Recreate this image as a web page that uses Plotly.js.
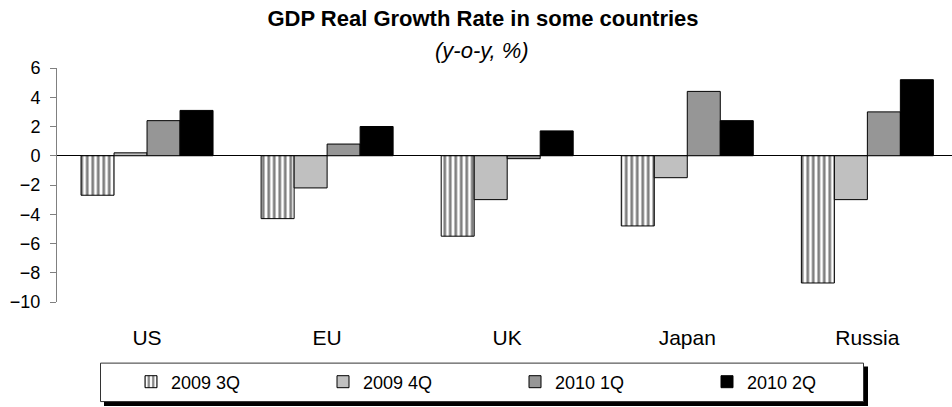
<!DOCTYPE html>
<html>
<head>
<meta charset="utf-8">
<script src="https://cdn.plot.ly/plotly-3.0.1.min.js"></script>
<style>html,body{margin:0;padding:0;background:#fff;}#chart{width:952px;height:407px;}</style>
</head>
<body>
<div id="chart"></div>
<script>
const countries = ["US", "EU", "UK", "Japan", "Russia"];
const seriesNames = ["2009 3Q", "2009 4Q", "2010 1Q", "2010 2Q"];
const q3_2009 = [-2.7, -4.3, -5.5, -4.8, -8.7];
const q4_2009 = [0.2, -2.2, -3.0, -1.5, -3.0];
const q1_2010 = [2.4, 0.8, -0.2, 4.4, 3.0];
const q2_2010 = [3.1, 2.0, 1.7, 2.4, 5.2];
const yTicks = [-10, -8, -6, -4, -2, 0, 2, 4, 6];
const boundaryTicks = [0.5, 1.5, 2.5, 3.5];

const FONT = "Liberation Sans, Arial, sans-serif";
const line = {color: "#000", width: 1};

const traces = [
  {type: "bar", name: seriesNames[0], x: countries, y: q3_2009,
   marker: {color: "#fff", line: line,
            pattern: {shape: "|", fgcolor: "#000", bgcolor: "#fff", size: 5.5, solidity: 0.5, fillmode: "overlay"}}},
  {type: "bar", name: seriesNames[1], x: countries, y: q4_2009, marker: {color: "#C0C0C0", line: line}},
  {type: "bar", name: seriesNames[2], x: countries, y: q1_2010, marker: {color: "#969696", line: line}},
  {type: "bar", name: seriesNames[3], x: countries, y: q2_2010, marker: {color: "#000000", line: line}}
];

const L = 57, R = 952, T = 68, B = 302.3;
const px = v => (v - L) / (R - L);
const py = v => (B - v) / (B - T);

const layout = {
  width: 952, height: 407,
  margin: {l: L, r: 952 - R, t: T, b: 407 - B},
  paper_bgcolor: "#fff", plot_bgcolor: "#fff",
  font: {family: FONT, color: "#000", size: 17},
  barmode: "group", bargap: 0.267, bargroupgap: 0,
  title: {text: "<b>GDP Real Growth Rate in some countries</b>", font: {family: FONT, size: 22, color: "#000"},
          xref: "container", x: 483 / 952, xanchor: "center", yref: "container", y: 1 - 18 / 407, yanchor: "middle"},
  annotations: [{text: "<i>(y-o-y, %)</i>", xref: "paper", yref: "paper", x: px(482), y: py(50),
                 xanchor: "center", yanchor: "middle", showarrow: false, font: {family: FONT, size: 22, color: "#000"}}],
  xaxis: {type: "category", categoryorder: "array", categoryarray: countries, range: [-0.5, 4.47],
          showline: false, ticks: "", showgrid: false, zeroline: false, ticklabelstandoff: 21,
          tickfont: {family: FONT, size: 21, color: "#000"}, fixedrange: true},
  xaxis2: {overlaying: "x", anchor: "free", position: py(156), range: [-0.5, 4.47],
           tickmode: "array", tickvals: boundaryTicks, ticks: "outside", ticklen: 7, tickcolor: "#000", tickwidth: 1,
           showticklabels: false, showline: false, showgrid: false, zeroline: false},
  yaxis: {range: [-10, 6], tickmode: "array", tickvals: yTicks, ticks: "outside", ticklen: 6, tickcolor: "#808080",
          showline: true, linecolor: "#808080", linewidth: 1, showgrid: false,
          zeroline: true, zerolinecolor: "#000", zerolinewidth: 1, ticklabelstandoff: 6,
          tickfont: {family: FONT, size: 18, color: "#000"}},
  showlegend: true,
  legend: {orientation: "h", xref: "container", yref: "container", x: 131 / 952, y: 1 - 382 / 407,
           xanchor: "left", yanchor: "middle", bgcolor: "rgba(0,0,0,0)", borderwidth: 0,
           entrywidth: 147, entrywidthmode: "pixels", itemwidth: 30, traceorder: "normal",
           font: {family: FONT, size: 18, color: "#000"}},
  shapes: [
    {type: "rect", xref: "paper", yref: "paper", x0: px(104), x1: px(868), y0: py(406.5), y1: py(367),
     fillcolor: "#000", line: {width: 0}, layer: "above"},
    {type: "rect", xref: "paper", yref: "paper", x0: px(100.5), x1: px(863.5), y0: py(402), y1: py(363.5),
     fillcolor: "#fff", line: {width: 1, color: "#333"}, layer: "above"}
  ]
};

Plotly.newPlot("chart", traces, layout, {staticPlot: true, displayModeBar: false});
</script>
</body>
</html>
